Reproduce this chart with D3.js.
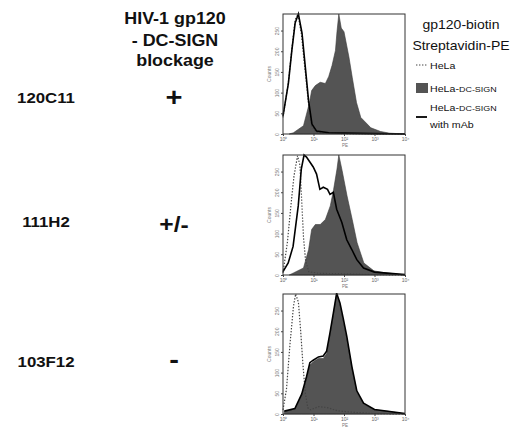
<!DOCTYPE html>
<html><head><meta charset="utf-8">
<script src="https://cdn.jsdelivr.net/npm/d3@7"></script>
<style>body{margin:0;background:#fff}svg{display:block}</style>
</head><body>
<svg id="c" width="527" height="438"></svg>
<script>
// ---- data ----
const antibodies = ["120C11", "111H2", "103F12"];
const blockage = ["+", "+/-", "-"];
const headerLines = ["HIV-1 gp120", "- DC-SIGN", "blockage"];
const legendTitle = ["gp120-biotin", "Streptavidin-PE"];
const xTicks = [1, 10, 100, 1000, 10000];
const xTickLabels = ["10\u2070", "10\u00b9", "10\u00b2", "10\u00b3", "10\u2074"];
const yTicks = [0, 50, 100, 150, 200, 250];

// [PE intensity, counts]
const hela1 = [[1,40],[1.5,125],[2,212],[2.5,276],[3.1,289],[4,242],[5.2,160],[6.8,76],[8.7,20],[12,5],[20,2],[100,1],[10000,0]];
const dcsign1 = [[1.6,0],[2.2,3],[4.7,20],[7.4,76],[8.7,105],[11.5,117],[16.6,125],[24.5,122],[31.6,139],[40.7,166],[52.5,202],[58.9,247],[67.6,290],[81.3,256],[100,247],[145,186],[186,137],[257,76],[355,40],[759,15],[1585,6],[3162,2],[10000,0]];
const mab1 = [[1,44],[1.5,122],[1.95,202],[2.5,268],[3.2,290],[4.2,244],[5.4,161],[6.9,80],[8.9,24],[12.6,7],[31.6,3],[100,2],[1000,1],[10000,0]];

const hela2 = [[1,5],[1.4,80],[1.8,165],[2.3,240],[3.0,288],[3.6,265],[4.1,180],[4.7,90],[5.5,35],[7,8],[15,4],[100,3],[1000,1],[10000,0]];
const dcsign2 = [[1.6,0],[2.2,5],[4.7,17],[6.9,61],[8.7,110],[11.5,122],[16.6,122],[24.5,134],[35.5,167],[45.7,207],[58.9,256],[67.6,290],[87,252],[126,191],[186,134],[269,78],[447,29],[955,10],[1995,6],[10000,0]];
const mab2 = [[1,8],[1.48,29],[2.14,69],[3.16,167],[3.98,256],[4.9,290],[5.9,285],[7.6,273],[9.8,261],[12.6,244],[16.2,207],[20.9,212],[28.8,207],[34.7,195],[44.7,200],[57.5,159],[85,127],[123,85],[182,61],[263,37],[437,17],[1000,7],[10000,1]];

const hela3 = [[1,10],[1.3,60],[1.7,170],[2.2,260],[2.6,290],[3.2,270],[3.8,200],[4.5,120],[5.4,50],[6.5,15],[8,10],[15,18],[30,15],[60,8],[200,4],[1000,1],[10000,0]];
const dcsign3 = [[1.1,6],[2.45,12],[4.1,45],[5.9,85],[7.6,118],[9.8,126],[14.5,134],[20.9,134],[26.9,146],[34.7,191],[44.7,240],[57.5,290],[74,264],[95,224],[123,183],[182,110],[263,53],[437,24],[1000,10],[3162,6],[10000,0]];
const mab3 = [[1.1,7],[2.45,13],[4.1,48],[5.9,90],[7.6,124],[9.8,130],[14.5,138],[20.9,140],[26.9,152],[34.7,196],[44.7,244],[57.5,292],[74,268],[95,230],[123,188],[182,114],[263,56],[437,26],[1000,11],[3162,6],[10000,1]];

const panels = [
  {hela: hela1, dcsign: dcsign1, mab: mab1},
  {hela: hela2, dcsign: dcsign2, mab: mab2},
  {hela: hela3, dcsign: dcsign3, mab: mab3}
];

// ---- layout ----
const svg = d3.select("#c");
const FONT = "Liberation Sans, Arial, Helvetica, sans-serif";
const SX = 1.12; // horizontal stretch of the original image
function stext(g, x, y, str, size, weight, anchor) {
  return g.append("text")
    .attr("transform", `translate(${x},${y}) scale(${SX},1)`)
    .attr("text-anchor", anchor || "middle")
    .attr("font-family", FONT)
    .attr("font-size", size)
    .attr("font-weight", weight || "normal")
    .attr("fill", "#111")
    .text(str);
}

// header
const headerY = [24, 46, 66];
headerLines.forEach((t, i) => stext(svg, 175, headerY[i], t, 16, "bold"));

const panelTops = [14, 155, 294];
const rowTextY = [103, 227, 367];
const signSize = [26, 22, 26];
const signY = [106, 232, 368];

const x = d3.scaleLog().domain([1, 10000]).range([283, 405]);
const gray = "#545454";

panels.forEach((p, i) => {
  const top = panelTops[i], bottom = top + 120;
  const y = d3.scaleLinear().domain([0, 290]).range([bottom, top]);
  const g = svg.append("g");

  // row labels
  stext(svg, 46, rowTextY[i], antibodies[i], 15, "bold");
  stext(svg, 174, signY[i], blockage[i], signSize[i], "bold");

  const area = d3.area().x(d => x(d[0])).y0(bottom).y1(d => y(d[1])).curve(d3.curveLinear);
  const line = d3.line().x(d => x(d[0])).y(d => y(d[1])).curve(d3.curveLinear);

  g.append("path").datum(p.dcsign).attr("d", area).attr("fill", gray).attr("stroke", "#3a3a3a").attr("stroke-width", 0.6);
  g.append("path").datum(p.hela).attr("d", line).attr("fill", "none").attr("stroke", "#444").attr("stroke-width", 1.2).attr("stroke-dasharray", "1.4,1.6");
  g.append("path").datum(p.mab).attr("d", line).attr("fill", "none").attr("stroke", "#000").attr("stroke-width", 1.6);

  // frame
  g.append("rect").attr("x", 283).attr("y", top).attr("width", 122).attr("height", 120)
    .attr("fill", "none").attr("stroke", "#333").attr("stroke-width", 1);

  // x axis ticks
  const xa = g.append("g").attr("transform", `translate(0,${bottom})`)
    .call(d3.axisBottom(x).tickValues(xTicks).tickSize(2).tickPadding(1).tickFormat((d, k) => xTickLabels[k]));
  xa.select(".domain").remove();
  xa.selectAll("line").attr("stroke", "#444");
  xa.selectAll("text").attr("font-size", 5).attr("font-family", FONT).attr("fill", "#666");
  // y axis ticks
  const ya = g.append("g").attr("transform", `translate(283,0)`)
    .call(d3.axisLeft(y).tickValues(yTicks).tickSize(2));
  ya.select(".domain").remove();
  ya.selectAll("line").attr("stroke", "#444");
  ya.selectAll("text").attr("font-size", 5).attr("font-family", FONT).attr("fill", "#777")
    .attr("transform", "rotate(-90)").attr("text-anchor", "middle").attr("x", 0).attr("y", -4).attr("dy", 0);
  // axis titles
  g.append("text").attr("x", 345).attr("y", bottom + 13).attr("text-anchor", "middle")
    .attr("font-size", 4.5).attr("font-family", FONT).attr("fill", "#777").text("PE");
  g.append("text").attr("transform", `translate(271,${(top + bottom) / 2}) rotate(-90)`).attr("text-anchor", "middle")
    .attr("font-size", 5).attr("font-family", FONT).attr("fill", "#777").text("Counts");
});

// legend
stext(svg, 461, 29, legendTitle[0], 12.5);
stext(svg, 461, 50, legendTitle[1], 12.5);
svg.append("line").attr("x1", 416).attr("x2", 427).attr("y1", 65).attr("y2", 65)
  .attr("stroke", "#444").attr("stroke-width", 1.2).attr("stroke-dasharray", "1.4,1.6");
stext(svg, 430, 68.5, "HeLa", 9.5, "normal", "start");
svg.append("rect").attr("x", 416).attr("y", 83).attr("width", 12).attr("height", 10).attr("fill", gray);
function helaDc(yPos) {
  const t = svg.append("text").attr("transform", `translate(430,${yPos}) scale(${SX},1)`)
    .attr("font-family", FONT).attr("font-size", 9.5).attr("fill", "#111");
  t.append("tspan").text("HeLa-");
  t.append("tspan").attr("font-size", 8).text("DC-SIGN");
}
helaDc(91.5);
helaDc(111);
svg.append("line").attr("x1", 416).attr("x2", 427).attr("y1", 117).attr("y2", 117).attr("stroke", "#000").attr("stroke-width", 1.8);
stext(svg, 430, 127.5, "with mAb", 9.5, "normal", "start");
</script>
</body></html>
